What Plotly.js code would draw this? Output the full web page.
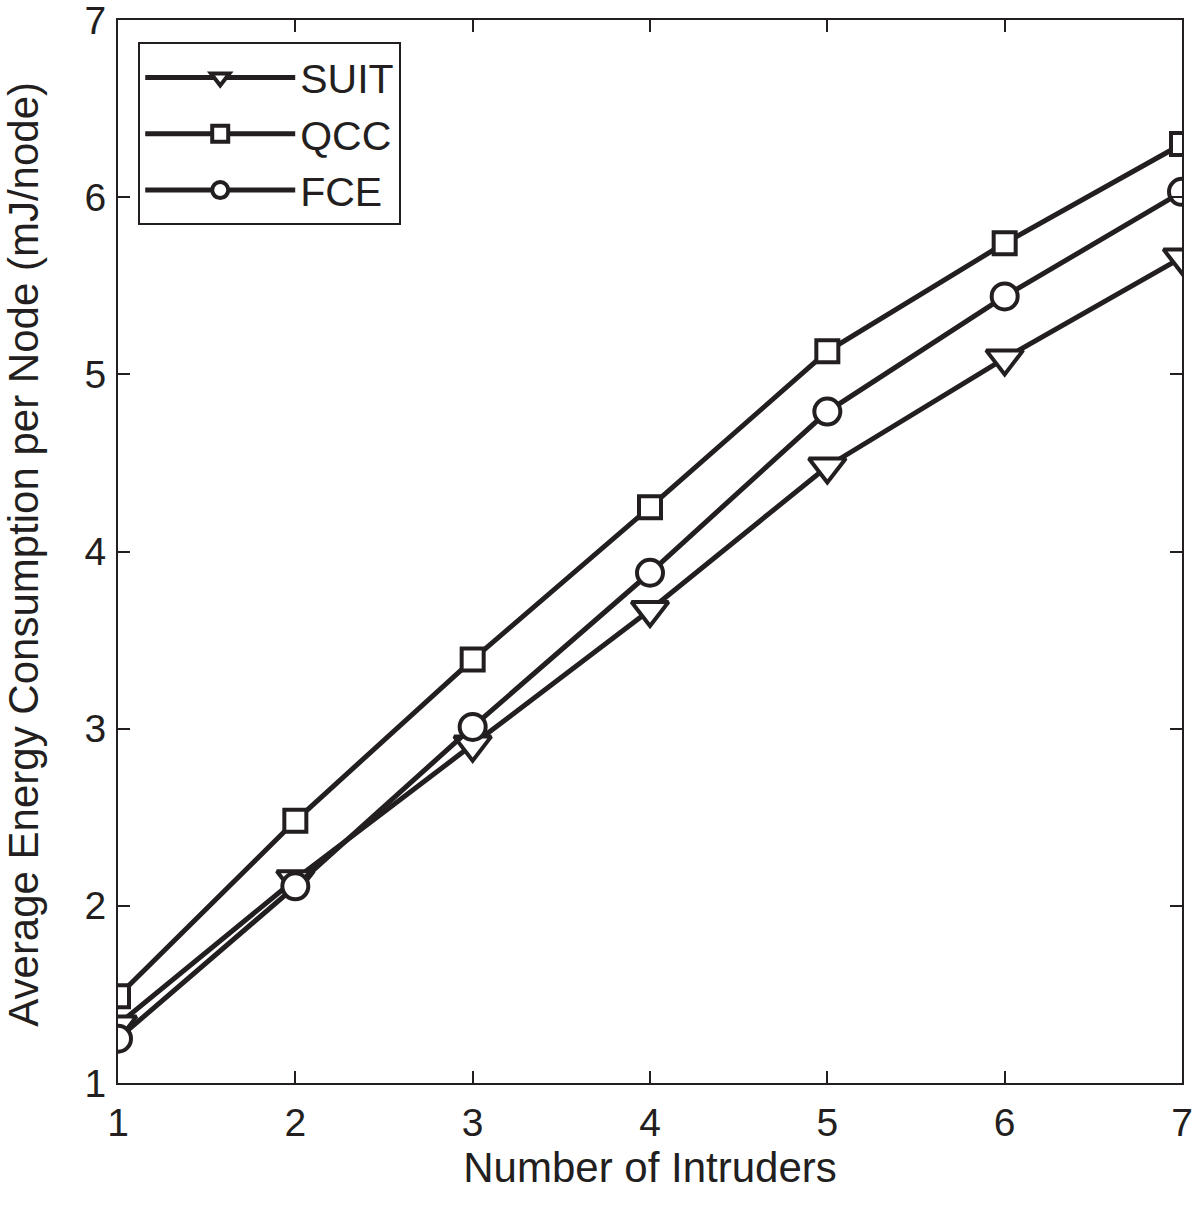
<!DOCTYPE html>
<html>
<head>
<meta charset="utf-8">
<script src="https://cdn.plot.ly/plotly-3.0.1.min.js"></script>
<style>html,body{margin:0;padding:0;background:#fff;}#chart{width:1200px;height:1208px;}</style>
</head>
<body>
<div id="chart"></div>
<script>
const intruders = [1, 2, 3, 4, 5, 6, 7];
const seriesNames = ["SUIT", "QCC", "FCE"];
const suit = [1.33, 2.15, 2.91, 3.67, 4.48, 5.09, 5.66];
const qcc  = [1.49, 2.48, 3.39, 4.25, 5.13, 5.74, 6.30];
const fce  = [1.25, 2.11, 3.01, 3.88, 4.79, 5.44, 6.03];
const yTicks = [1, 2, 3, 4, 5, 6, 7];
const xTitle = "Number of Intruders";
const yTitle = "Average Energy Consumption per Node (mJ/node)";

const symbols = ["triangle-down", "square", "circle"];
const markerSizes = [32, 22, 26];
const ink = "#231f20";
const font = "Liberation Sans, Arial, Helvetica, sans-serif";
const values = [suit, qcc, fce];

const traces = values.map((v, i) => ({
  x: intruders,
  y: v,
  name: seriesNames[i],
  type: "scatter",
  mode: "lines+markers",
  line: {color: ink, width: 5},
  marker: {symbol: symbols[i], size: markerSizes[i], color: "#ffffff", line: {color: ink, width: 4}}
}));

const axisCommon = {
  showline: true, linecolor: ink, linewidth: 2, mirror: "ticks",
  ticks: "inside", ticklen: 12, tickwidth: 2, tickcolor: ink,
  showgrid: false, zeroline: false, ticklabeloverflow: "allow",
  tickfont: {family: font, size: 39, color: ink}
};

const layout = {
  width: 1200, height: 1208,
  margin: {l: 118, r: 18, t: 20, b: 125},
  paper_bgcolor: "#ffffff", plot_bgcolor: "#ffffff",
  font: {family: font, color: ink},
  xaxis: Object.assign({}, axisCommon, {
    range: [1, 7], tickvals: intruders, ticklabelstandoff: 4,
    title: {text: xTitle, font: {family: font, size: 42, color: ink}, standoff: 0}
  }),
  yaxis: Object.assign({}, axisCommon, {
    range: [1, 7], tickvals: yTicks, ticklabelstandoff: 2
  }),
  annotations: [{
    text: yTitle, xref: "paper", yref: "paper",
    x: -0.0883, y: 0.497, xanchor: "center", yanchor: "middle",
    textangle: -90, showarrow: false,
    font: {family: font, size: 42, color: ink}
  }],
  showlegend: true,
  legend: {
    x: 0.019, y: 0.979, xanchor: "left", yanchor: "top",
    bgcolor: "#ffffff", bordercolor: ink, borderwidth: 2,
    font: {family: font, size: 41, color: ink},
    itemwidth: 150, tracegroupgap: 0
  }
};

Plotly.newPlot("chart", traces, layout, {displayModeBar: false, staticPlot: true});
</script>
</body>
</html>
